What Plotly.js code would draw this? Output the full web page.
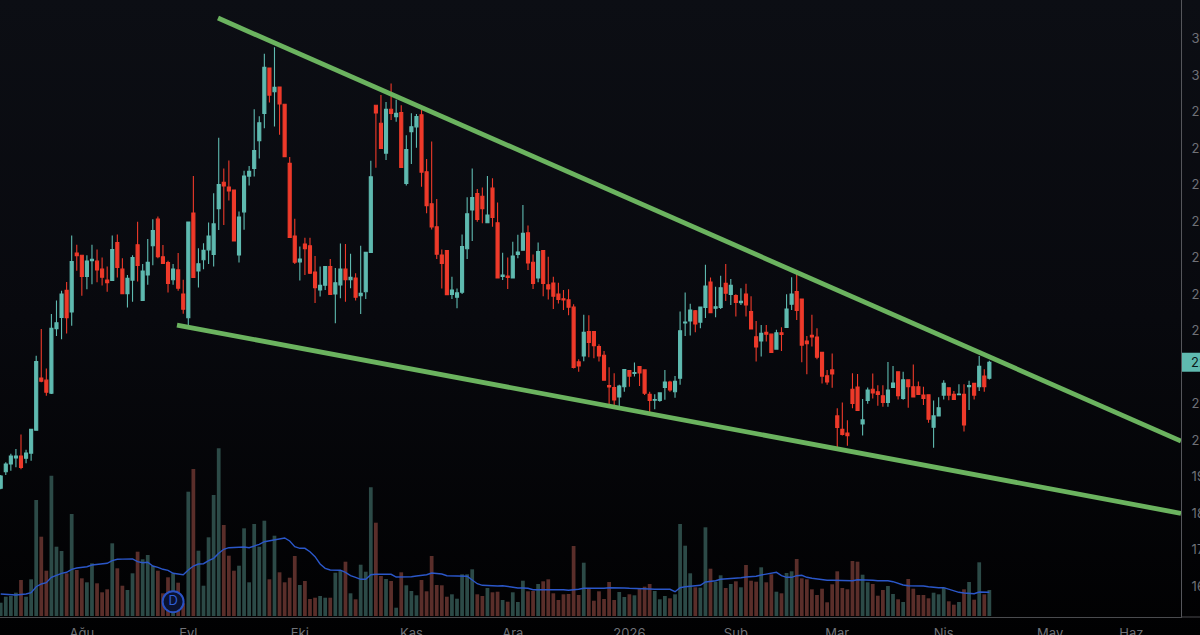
<!DOCTYPE html>
<html>
<head>
<meta charset="utf-8">
<script src="https://cdn.plot.ly/plotly-3.0.1.min.js"></script>
<style>
  html, body { margin: 0; padding: 0; overflow: hidden; background: #05060a; }
  #chart { width: 1200px; height: 635px; background: linear-gradient(180deg, #0c0e14 0%, #08090e 50%, #010102 100%); }
</style>
</head>
<body>
<div id="chart"></div>
<script>
/*
 Data (one bar per trading day)
*/
var opens = [
  18.68,19.13,19.34,19.51,19.56,19.50,19.64,20.27,21.70,21.64,
  21.28,23.05,23.36,24.10,23.51,25.12,25.06,24.48,24.91,24.90,
  24.68,24.38,24.37,25.41,24.68,24.01,24.38,25.35,23.82,24.52,
  25.32,26.05,25.02,24.86,24.39,24.66,24.00,23.35,26.22,24.63,
  24.94,25.21,25.08,26.34,27.06,26.93,26.85,25.07,26.25,27.23,
  27.44,28.20,28.95,30.19,29.54,29.67,29.20,27.58,25.59,24.88,
  25.37,25.32,24.60,24.11,24.24,24.75,24.00,24.25,24.68,24.39,
  24.44,23.95,24.06,25.14,29.17,28.68,27.86,29.06,28.86,28.97,
  27.03,28.45,28.58,28.91,27.35,26.47,25.84,25.07,25.19,23.99,
  23.91,24.05,25.24,26.30,26.75,26.68,25.95,26.90,25.95,24.48,
  24.49,24.44,25.08,25.20,25.68,24.87,24.44,25.19,24.25,24.30,
  24.00,23.87,23.84,23.64,22.14,22.30,22.97,22.97,22.56,22.32,
  21.49,21.44,21.18,21.46,21.90,21.82,22.01,21.92,21.25,21.09,
  21.08,21.44,21.59,21.32,21.69,23.21,23.26,23.54,23.23,23.63,
  24.33,23.61,23.63,24.29,23.99,23.96,23.76,24.00,23.52,22.83,
  22.71,22.95,22.90,22.49,22.94,23.08,23.72,24.07,23.86,22.71,
  22.87,22.82,22.40,21.76,21.92,20.66,20.29,20.19,21.39,21.45,
  20.44,21.08,21.39,21.32,21.21,21.03,21.44,21.87,21.14,21.65,
  21.46,21.46,21.23,21.24,20.35,20.66,21.23,21.43,21.25,21.24,
  21.25,21.46,21.55,21.46,21.75,21.69
];
var highs = [
  19.04,19.39,19.62,19.75,20.15,19.73,20.29,22.31,23.04,21.96,
  23.45,23.82,24.09,24.33,25.60,25.35,25.06,25.06,25.35,25.22,
  25.00,24.75,25.60,25.63,24.98,24.52,25.06,25.98,24.82,25.51,
  26.05,26.12,25.34,24.91,24.82,25.12,24.39,25.97,27.23,25.25,
  25.39,25.96,26.76,28.28,27.44,27.66,26.85,26.26,27.38,27.51,
  29.06,28.87,30.58,30.19,30.76,29.67,29.20,27.75,26.06,25.30,
  25.54,25.54,25.04,24.75,24.75,24.96,24.71,25.38,25.37,25.10,
  24.57,25.32,25.14,27.65,29.17,29.45,29.26,29.77,29.32,29.17,
  28.35,28.95,28.93,29.11,27.70,28.18,26.60,25.22,25.20,24.47,
  24.15,25.63,26.65,27.44,26.88,26.92,27.23,27.17,26.51,25.13,
  25.00,25.43,25.62,26.44,25.88,25.08,25.41,25.19,25.02,24.47,
  24.31,24.11,24.13,23.72,22.21,23.43,23.42,22.97,22.62,22.44,
  21.99,21.83,21.51,21.94,21.92,22.12,22.03,21.92,21.32,21.25,
  21.29,21.92,21.62,21.75,23.52,24.04,23.73,23.56,23.64,24.80,
  24.45,24.20,24.50,24.82,24.41,23.99,24.16,24.28,23.94,23.26,
  23.15,23.15,22.90,23.02,23.09,23.99,24.46,24.57,23.86,22.85,
  23.43,23.06,22.40,21.92,22.37,20.87,21.03,20.54,21.83,21.81,
  21.12,21.44,21.82,21.50,21.50,22.14,22.03,21.87,21.87,21.65,
  22.07,21.60,21.46,21.24,21.08,21.17,21.64,21.43,21.34,21.53,
  21.53,21.62,21.55,22.30,21.94,22.17
];
var lows = [
  18.65,19.04,19.16,19.25,19.20,19.36,19.43,20.27,21.58,21.21,
  21.26,22.85,22.76,22.92,23.13,24.64,23.95,24.13,24.27,24.32,
  24.23,24.06,24.36,24.45,24.00,23.63,23.79,24.34,23.82,24.25,
  24.79,24.98,24.82,24.04,24.25,24.09,23.46,23.15,24.45,24.18,
  24.68,24.82,24.75,25.75,25.89,26.56,25.44,24.86,25.76,26.97,
  27.22,27.71,28.54,29.25,28.59,28.36,27.75,25.54,24.82,24.37,
  24.52,24.55,23.75,23.93,24.11,23.99,23.20,23.88,23.79,24.16,
  23.82,23.45,23.86,25.14,27.46,27.97,27.67,28.77,28.72,27.47,
  26.97,27.56,28.01,26.94,26.21,25.77,24.96,24.15,23.97,23.86,
  23.61,24.00,24.96,25.45,25.98,25.94,25.94,25.84,24.43,24.38,
  24.14,24.43,24.98,25.20,24.66,24.14,24.32,23.94,23.85,23.59,
  23.74,23.56,23.42,21.96,21.87,22.16,22.27,22.24,22.15,21.64,
  20.94,20.96,20.87,21.32,21.46,21.74,21.48,21.23,20.69,20.84,
  21.05,21.10,21.32,21.16,21.51,22.85,22.86,22.95,23.06,23.34,
  23.48,23.36,23.59,23.81,23.70,23.38,23.70,23.38,23.03,22.15,
  22.29,22.70,22.40,22.47,22.44,23.07,23.56,23.29,22.13,21.80,
  22.56,22.21,21.55,21.51,21.43,19.77,20.12,19.84,20.87,20.80,
  20.12,20.99,21.14,20.94,20.91,20.91,21.43,21.11,21.10,20.88,
  21.17,21.23,20.96,20.47,19.79,20.65,21.11,21.09,21.10,21.23,
  20.23,20.82,21.11,21.34,21.32,21.66
];
var closes = [
  19.01,19.34,19.56,19.56,19.25,19.64,20.29,22.15,21.61,21.31,
  23.06,23.21,24.00,23.35,24.89,25.05,24.48,24.90,24.95,24.66,
  24.46,24.31,25.22,24.73,24.01,24.43,25.00,24.78,24.63,24.87,
  25.74,25.02,24.84,24.29,24.68,24.16,23.58,25.97,24.45,24.83,
  25.20,25.59,25.92,27.00,26.96,26.82,25.45,26.11,27.23,27.36,
  27.93,28.69,30.21,29.45,29.66,29.21,27.76,25.55,24.87,24.96,
  25.24,24.57,24.17,24.24,24.75,23.99,24.31,24.68,24.39,24.46,
  23.91,24.02,25.14,27.21,28.96,27.99,29.06,28.95,28.95,27.47,
  27.96,28.58,28.86,27.34,26.42,25.84,25.09,24.84,23.98,24.11,
  24.03,25.30,26.20,26.64,26.04,26.34,26.16,26.10,24.44,24.52,
  24.45,25.04,25.15,25.66,24.85,24.29,25.16,24.29,24.14,23.94,
  23.85,23.84,23.64,21.99,22.03,22.95,22.67,22.58,22.30,21.64,
  21.45,21.10,21.48,21.93,21.75,21.85,21.84,21.28,21.08,21.11,
  21.29,21.59,21.37,21.61,22.99,23.23,23.56,23.18,23.64,24.22,
  23.49,23.65,24.17,24.02,24.24,23.77,23.80,23.70,23.04,22.55,
  22.92,22.90,22.40,22.94,22.89,23.59,24.00,23.55,22.60,22.64,
  22.82,22.27,21.75,21.59,21.81,20.34,20.15,20.12,21.00,20.81,
  20.55,21.37,21.29,21.25,21.03,21.37,21.56,21.21,21.65,21.46,
  21.18,21.25,21.14,20.57,20.66,20.88,21.55,21.23,21.11,21.26,
  20.41,21.49,21.23,22.02,21.46,22.13
];
var volumes = [
  13.3,19.3,20,23.3,36,19.3,36.7,116,79.3,45.3,
  140.3,69.3,65,42.7,102,46,37.7,33.7,52.7,32.7,
  23.7,26.7,72.7,47.7,30.3,26,42.7,64.3,56.7,61,
  50,45.3,22.7,38.7,42.7,33.3,12.7,124.3,147,65.3,
  30.3,78.7,121,167.7,91,60.3,45.3,50.3,87.7,33.7,
  92,69.3,95.3,36.7,80.3,43.7,33.7,38.3,60,31,
  35,17,18.3,20,18.3,18.3,43.3,45,54.3,22.7,
  16.7,51.3,44.3,128.7,93.3,40,37,35,8.3,43.7,
  30.7,25,20.7,36,24.7,60,31,30.7,19.3,21.7,
  17.3,41.7,41.7,46.7,21.7,20,28,23.7,24.3,16,
  14.3,23.7,14,35.3,24.7,25,32,34.7,36.7,22.7,
  16,21.7,22,70,21,53.3,27.3,15.3,24.7,17,
  34,16,24,19,21.7,20.7,27.7,29.3,32,25,
  16.7,20,17.7,21.7,92,70.3,42.7,28.7,28.3,88.7,
  47.3,34.3,40.7,28,32,34.7,28.7,51,35.3,34.3,
  48.7,33.7,41.7,24.3,22.7,43,44.7,57,37.7,36.7,
  26.7,21,27.3,13.7,31.7,44.7,28,26.7,55,54.3,
  41.3,33.7,32,20.3,26,30,22,16.7,14,37,
  27.3,21,21,17.7,23.3,21.7,28.3,14.7,11.3,14,
  26.7,34,16.3,53.7,21.7,26
];
var volumeMa = [
  22,21.7,21.3,21,21.5,22,23.3,29.3,32,33.3,
  38.7,41,42.7,43.7,46.7,48,48.7,49.3,51,51.7,
  52,52.7,55.3,56.7,56.9,57,57,54.3,53.3,53.7,
  50,48.7,46.7,45.7,42.7,42,41.3,46,50,52,
  52.3,55.3,57.7,62.7,66.7,68.3,68.5,68.3,69,68.3,
  70,71.7,74.3,75.3,76.7,77.7,78,75,69.3,67.7,
  67.7,64.3,59.3,52,47.7,46,46,45.8,43.7,40.3,
  38.7,36.7,36.7,41.3,41.7,41.7,41.7,41.7,39,39,
  39.3,39.3,40,40.7,41.3,43,42.7,42,40.3,40,
  40,40,39.7,36,32.3,30.7,30.3,30,30,30.3,
  29.3,28.3,28,28,27.7,26.3,26.3,26.7,27,27,
  27,26.3,25.7,26,26.7,27.7,27.7,27.3,27.3,27.7,
  28.3,28.3,28.7,28,27.7,27.7,27,27,27,26.7,
  26.7,26.7,26.7,24.3,28.3,29.3,30,30.3,30.7,34,
  34.3,35.3,36.7,37,37.3,38,38.3,39,39.3,39.7,
  41,42,43.3,43.7,40.3,38.7,38.7,40.3,40.7,38.7,
  37.7,37,36.3,35.7,35.7,35.7,35,35,35.3,36.3,
  36.3,36,35.7,35.3,35.3,35.3,34.3,32.3,31,30.3,
  30.3,30.3,30,29.3,28.7,28.3,28.3,26.7,25,23.7,
  23,23,22.3,24,24,23.7
];

var monthBars = [16, 37, 59, 81, 101, 124, 145, 165, 186, 207, 223];
var monthLabels = ["Ağu", "Eyl", "Eki", "Kas", "Ara", "2026", "Şub", "Mar", "Nis", "May", "Haz"];
// 22 sits under the last price label
var priceTicks = [16, 17, 18, 19, 20, 21, 23, 24, 25, 26, 27, 28, 29, 30, 31, 32];

// hand drawn wedge, bar number and price at each end
var upperBars = [42.86, 232.8];
var upperPrices = [31.56, 19.97];
var lowerBars = [34.77, 232.8];
var lowerPrices = [23.15, 17.99];

var dividendBars = [34];
var dividendVolume = [14.3];
var lastPrice = 22.13;

/*
 Traces
*/
var bars = opens.map(function(o, i) { return i; });
var volumeColors = closes.map(function(c, i) {
  return c >= opens[i] ? "#2c4a47" : "#5a2e2a";
});

var green = "#6bb35f";

var volumeTrace = {
  type: "bar",
  x: bars,
  y: volumes,
  yaxis: "y",
  width: 0.74,
  marker: {color: volumeColors, line: {width: 0}},
  hoverinfo: "skip"
};

var maTrace = {
  type: "scatter",
  mode: "lines",
  x: bars,
  y: volumeMa,
  yaxis: "y",
  line: {color: "#2b57c9", width: 1.4},
  hoverinfo: "skip"
};

var dividendTrace = {
  type: "scatter",
  mode: "markers+text",
  x: dividendBars,
  y: dividendVolume,
  yaxis: "y",
  text: ["D"],
  textposition: "middle center",
  textfont: {family: "Inter, sans-serif", size: 13, color: "#2f5fd6"},
  marker: {size: 21, color: "#0a1230", line: {color: "#2a52c4", width: 2}},
  hoverinfo: "skip"
};

var candleTrace = {
  type: "candlestick",
  x: bars,
  open: opens,
  high: highs,
  low: lows,
  close: closes,
  yaxis: "y2",
  whiskerwidth: 0,
  increasing: {line: {color: "#5fbab0", width: 1.1}, fillcolor: "#5fbab0"},
  decreasing: {line: {color: "#ee3a2a", width: 1.1}, fillcolor: "#ee3a2a"},
  hoverinfo: "skip"
};

var upperTrace = {
  type: "scatter",
  mode: "lines",
  x: upperBars,
  y: upperPrices,
  yaxis: "y2",
  line: {color: green, width: 4.8},
  hoverinfo: "skip"
};

var lowerTrace = {
  type: "scatter",
  mode: "lines",
  x: lowerBars,
  y: lowerPrices,
  yaxis: "y2",
  line: {color: green, width: 4.8},
  hoverinfo: "skip"
};

var data = [volumeTrace, maTrace, dividendTrace, candleTrace, upperTrace, lowerTrace];

var layout = {
  width: 1200,
  height: 635,
  margin: {l: 0, r: 19, t: 0, b: 18, pad: 0},
  paper_bgcolor: "rgba(0,0,0,0)",
  plot_bgcolor: "rgba(0,0,0,0)",
  showlegend: false,
  boxmode: "overlay",
  boxgap: 0.4,
  boxgroupgap: 0,
  font: {family: "Inter, sans-serif", size: 13, color: "#6f7177"},
  xaxis: {
    range: [-0.14, 232.8],
    tickmode: "array",
    tickvals: monthBars,
    ticktext: monthLabels,
    ticks: "outside",
    ticklen: 4,
    tickcolor: "rgba(0,0,0,0)",
    showgrid: false,
    zeroline: false,
    showline: true,
    linecolor: "#4a4b4f",
    linewidth: 1,
    rangeslider: {visible: false},
    fixedrange: true
  },
  yaxis: {
    range: [-1, 616],
    visible: false,
    fixedrange: true
  },
  yaxis2: {
    range: [15.15, 32.055],
    overlaying: "y",
    side: "right",
    anchor: "x",
    tickmode: "array",
    tickvals: priceTicks,
    tickformat: ".2f",
    ticks: "outside",
    ticklen: 7,
    tickcolor: "rgba(0,0,0,0)",
    showgrid: false,
    zeroline: false,
    showline: true,
    linecolor: "#55565b",
    linewidth: 1,
    fixedrange: true
  },
  shapes: [{
    type: "line",
    xref: "paper",
    yref: "paper",
    x0: 1,
    x1: 1.02,
    y0: 0,
    y1: 0,
    line: {color: "#4a4b4f", width: 1}
  }, {
    // last price box on the axis
    type: "rect",
    xref: "paper",
    yref: "y2",
    xsizemode: "pixel",
    xanchor: 1,
    x0: 1,
    x1: 20,
    ysizemode: "pixel",
    yanchor: lastPrice,
    y0: -9.5,
    y1: 9.5,
    fillcolor: "#5fbab0",
    line: {width: 0}
  }],
  annotations: [{
    xref: "paper",
    yref: "y2",
    x: 1,
    y: lastPrice,
    xanchor: "left",
    xshift: 8,
    text: lastPrice.toFixed(2),
    showarrow: false,
    font: {family: "Inter, sans-serif", size: 13, color: "#0c1a1a"}
  }]
};

var config = {
  displayModeBar: false,
  staticPlot: true
};

Plotly.newPlot("chart", data, layout, config);
</script>
</body>
</html>
